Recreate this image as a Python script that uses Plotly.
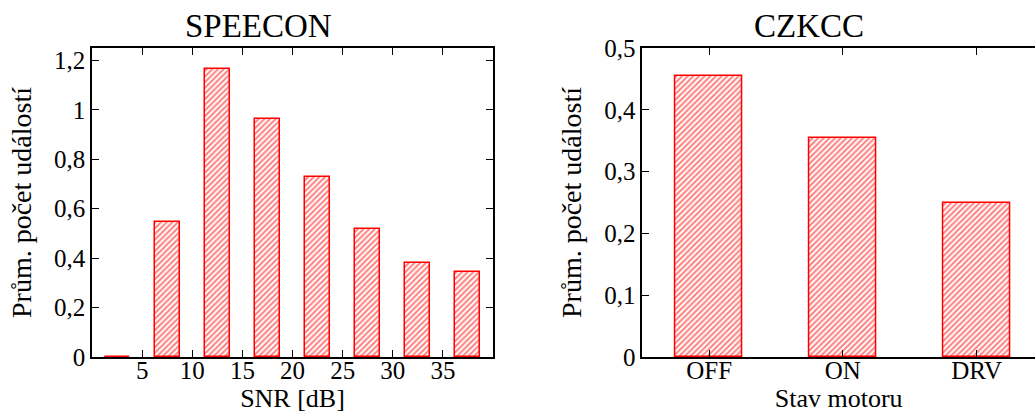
import plotly.graph_objects as go

# SPEECON: average number of events per SNR band (bar centres in dB)
snr_centers = [2.5, 7.5, 12.5, 17.5, 22.5, 27.5, 32.5, 37.5]
speecon_events = [0.0, 0.546, 1.164, 0.963, 0.727, 0.516, 0.382, 0.342]
snr_ticks = [5, 10, 15, 20, 25, 30, 35]

# CZKCC: average number of events per engine state
engine_states = ["OFF", "ON", "DRV"]
czkcc_events = [0.455, 0.354, 0.249]

RED = "#ff0000"
FONT = "Liberation Serif, DejaVu Serif, Times New Roman, serif"

hatch = dict(shape="/", fgcolor=RED, bgcolor="white", size=4, solidity=0.5)

fig = go.Figure()

fig.add_trace(go.Bar(
    x=snr_centers, y=speecon_events, width=2.5,
    marker=dict(color="white", line=dict(color=RED, width=1.5), pattern=hatch),
    xaxis="x", yaxis="y", showlegend=False,
))
fig.add_trace(go.Bar(
    x=engine_states, y=czkcc_events, width=0.5,
    marker=dict(color="white", line=dict(color=RED, width=1.5), pattern=hatch),
    xaxis="x2", yaxis="y2", showlegend=False,
))

axis_common = dict(
    showgrid=False, zeroline=False, showline=True, linecolor="black", linewidth=1.5,
    ticks="inside", ticklen=7, tickwidth=1.2, tickcolor="black", automargin=False,
    tickfont=dict(family=FONT, size=25, color="black"),
)
# bottom axes: pull the tick labels up close to the axis line
x_labels = dict(ticklabelposition="outside", ticklabelstandoff=-10)

W, H = 1035, 413
y_dom = [(H - 357) / H, (H - 48) / H]
title_font = dict(family=FONT, size=28, color="black")
xtitle_font = dict(family=FONT, size=26, color="black")

fig.update_layout(
    width=W, height=H,
    margin=dict(l=0, r=0, t=0, b=0),
    paper_bgcolor="white", plot_bgcolor="white",
    separators=", ",
    font=dict(family=FONT, color="black"),
    bargap=0,
    xaxis=dict(
        **axis_common, **x_labels, domain=[92 / W, 493 / W], range=[0, 40],
        tickvals=snr_ticks, mirror="ticks", anchor="y",
        title=dict(text="SNR [dB]", font=xtitle_font, standoff=11),
    ),
    yaxis=dict(
        **axis_common, domain=y_dom, range=[0, 1.25],
        tickvals=[0, 0.2, 0.4, 0.6, 0.8, 1.0, 1.2], mirror="ticks", anchor="x",
        title=dict(text="Prům. počet událostí", font=title_font, standoff=14),
    ),
    xaxis2=dict(
        **axis_common, **x_labels, domain=[642.3 / W, 1.0], range=[-0.5, 2.437],
        mirror="ticks", anchor="y2",
        title=dict(text="Stav motoru", font=xtitle_font, standoff=11),
    ),
    yaxis2=dict(
        **axis_common, domain=y_dom, range=[0, 0.5],
        tickvals=[0, 0.1, 0.2, 0.3, 0.4, 0.5], mirror=False, anchor="x2",
        title=dict(text="Prům. počet událostí", font=title_font, standoff=14),
    ),
    annotations=[
        dict(text="SPEECON", x=258 / W, y=(H - 26) / H, xref="paper", yref="paper",
             showarrow=False, font=dict(family=FONT, size=33, color="black"),
             xanchor="center", yanchor="middle"),
        dict(text="CZKCC", x=809 / W, y=(H - 26) / H, xref="paper", yref="paper",
             showarrow=False, font=dict(family=FONT, size=33, color="black"),
             xanchor="center", yanchor="middle"),
    ],
)

fig.write_html("out.html")
